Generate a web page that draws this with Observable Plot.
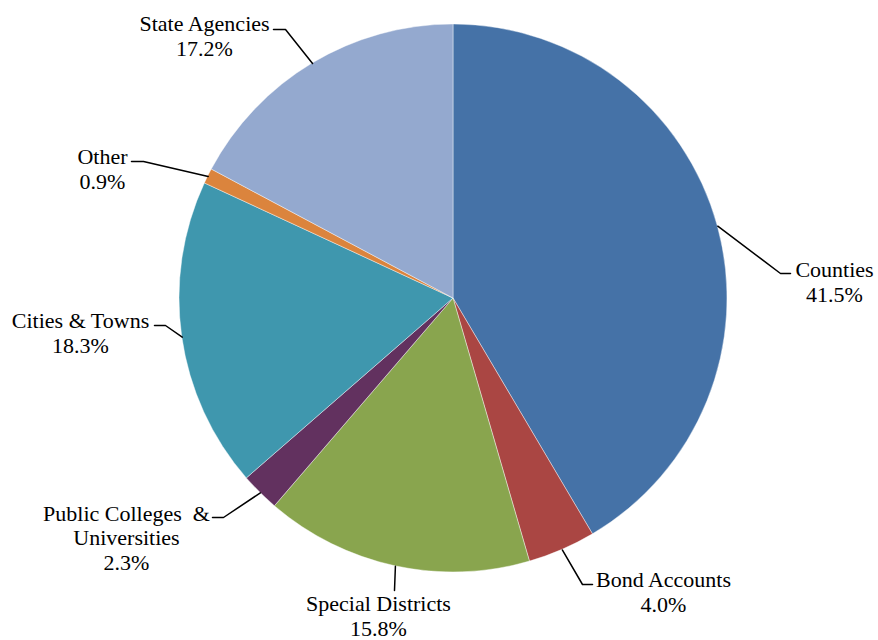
<!DOCTYPE html>
<html><head><meta charset="utf-8">
<script src="https://cdn.jsdelivr.net/npm/d3@7"></script>
<script src="https://cdn.jsdelivr.net/npm/@observablehq/plot@0.6"></script>
</head><body style="margin:0">
<div id="chart"></div>
<script>
// ---- data ----
const categories = ["Counties", "Bond Accounts", "Special Districts", "Public Colleges & Universities", "Cities & Towns", "Other", "State Agencies"];
const shares = [41.5, 4.0, 15.8, 2.3, 18.3, 0.9, 17.2];
const labelNames = ["Counties", "Bond Accounts", "Special Districts", "Public Colleges \u00a0&\nUniversities", "Cities & Towns", "Other", "State Agencies"];
const colors = ["#4572A7", "#AA4643", "#89A54E", "#62315F", "#3F97AE", "#DB843D", "#94A9CF"];

// ---- layout (pixel offsets from pie centre) ----
const R = 274;
const labelAt = [[381, -17], [210, 293], [-75, 317], [-327, 239], [-373, 34], [-351, -130], [-249, -263]];
const leaderEnd = [[337, -25], [139, 286], [-59, 292], [-241, 219], [-299, 27], [-322, -137], [-180, -269]];
const elbowGap = [-10, -10, 0, 11, 11, 12, 12];
const FONT = "Liberation Serif";

const rows = categories.map((c, i) => ({category: c, share: shares[i], name: labelNames[i]}));
const arcs = d3.pie().sort(null).value(d => d.share)(rows);

const labels = arcs.map((a, i) => ({
  category: a.data.category,
  text: `${a.data.name}\n${a.data.share.toFixed(1)}%`,
  x: labelAt[i][0], y: labelAt[i][1]
}));

const leaders = arcs.flatMap((a, i) => {
  const m = (a.startAngle + a.endAngle) / 2;
  const sx = R * Math.sin(m), sy = -R * Math.cos(m);
  const [ex, ey] = leaderEnd[i];
  return [
    {category: a.data.category, x: sx, y: sy},
    {category: a.data.category, x: ex + elbowGap[i], y: ey},
    {category: a.data.category, x: ex, y: ey}
  ];
});

const chart = Plot.plot({
  width: 878, height: 640,
  margin: 0,
  x: {domain: [-453, 425], range: [0, 878], axis: null},
  y: {domain: [-298, 342], range: [0, 640], axis: null},
  color: {domain: categories, range: colors},
  marks: [
    Plot.dot(arcs, {
      x: () => 0, y: () => 0, fill: d => d.data.category,
      render(index, scales, values, dimensions, context) {
        const cx = scales.x(0), cy = scales.y(0);
        const r = scales.x(R) - scales.x(0);
        const arc = d3.arc().innerRadius(0).outerRadius(r);
        const g = d3.select(context.document.createElementNS("http://www.w3.org/2000/svg", "g"));
        g.attr("transform", `translate(${cx},${cy})`);
        for (const i of index) {
          g.append("path")
            .attr("d", arc(arcs[i]))
            .attr("fill", values.fill[i])
            .attr("stroke", "#fff")
            .attr("stroke-width", 0.6)
            .attr("stroke-opacity", 0.7);
        }
        return g.node();
      }
    }),
    Plot.line(leaders, {x: "x", y: "y", z: "category", stroke: "#000", strokeWidth: 1.5, curve: "linear"}),
    Plot.text(labels, {
      x: "x", y: "y", text: "text",
      fontSize: 22, lineHeight: 1.12,
      fontFamily: FONT,
      fill: "#000"
    })
  ]
});
d3.select(chart).attr("font-family", FONT);
d3.select(chart).selectAll("text, tspan").attr("font-family", FONT);
document.getElementById("chart").append(chart);
</script>
</body></html>
